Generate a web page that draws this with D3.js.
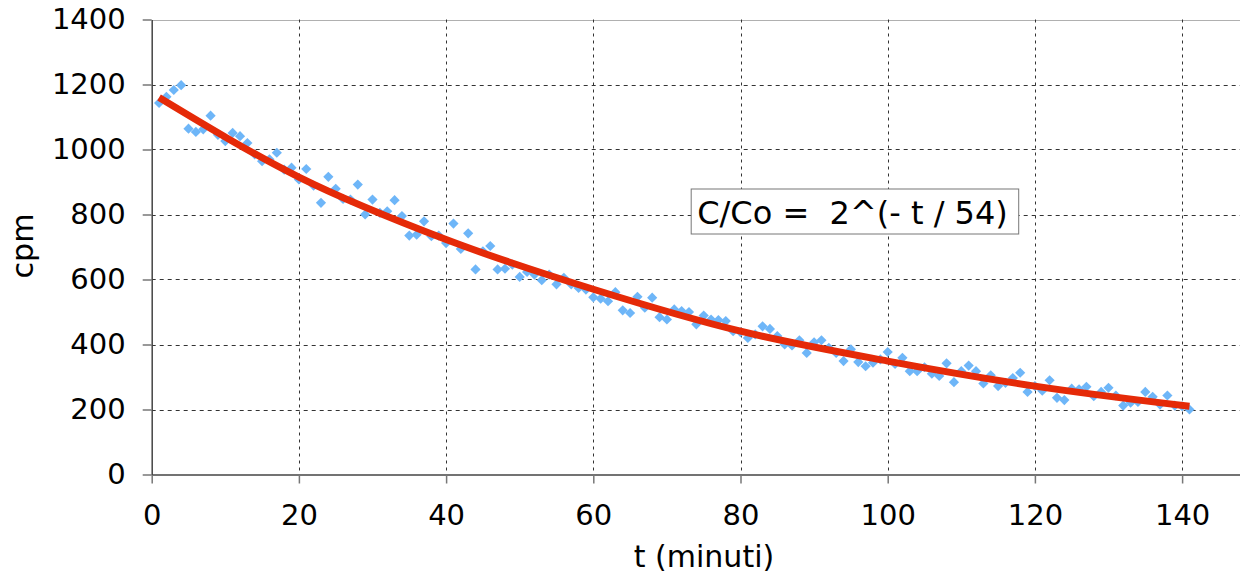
<!DOCTYPE html>
<html>
<head>
<meta charset="utf-8">
<script src="https://cdn.jsdelivr.net/npm/d3@7"></script>
<style>
  html, body { margin: 0; padding: 0; background: #fff; }
  svg { display: block; font-family: "DejaVu Sans", Verdana, sans-serif; }
</style>
</head>
<body>
<div id="chart"></div>
<script>
const width = 1240;
const height = 577;

// measured counts (cpm) for t = 1..141 minutes
const times = d3.range(1, 142);
const counts = [
  1143, 1162, 1183, 1198, 1064, 1054, 1062, 1104, 1045, 1026,
  1051, 1041, 1020, 985, 964, 970, 990, 938, 944, 908,
  940, 889, 836, 916, 879, 848, 846, 892, 800, 846,
  805, 810, 844, 795, 735, 738, 779, 733, 735, 712,
  772, 694, 742, 631, 687, 703, 631, 633, 646, 608,
  623, 615, 598, 615, 585, 605, 585, 574, 569, 545,
  541, 533, 561, 505, 497, 547, 513, 544, 484, 477,
  508, 503, 500, 462, 489, 477, 475, 472, 441, 438,
  420, 431, 456, 448, 426, 400, 397, 413, 374, 407,
  413, 390, 374, 349, 385, 346, 333, 344, 354, 377,
  340, 359, 318, 318, 330, 310, 303, 342, 284, 318,
  335, 318, 280, 305, 272, 282, 297, 313, 254, 272,
  258, 290, 236, 229, 264, 262, 270, 241, 254, 267,
  243, 212, 221, 223, 254, 239, 215, 243, 212, 210,
  200
];

// fitted trend
const fitT = [1, 20, 40, 60, 80, 100, 120, 141];
const fitC = [1160, 915, 723, 570, 441, 349, 272, 210];

const xTicks = [0, 20, 40, 60, 80, 100, 120, 140];
const yTicks = [0, 200, 400, 600, 800, 1000, 1200, 1400];
const fitLabel = "C/Co =  2^(- t / 54)";

const x = d3.scaleLinear().domain([0, 150]).range([151.7, 1255.7]);
const y = d3.scaleLinear().domain([0, 1400]).range([474.5, 19.5]);

const svg = d3.select("#chart").append("svg")
  .attr("width", width)
  .attr("height", height);

// grid
svg.append("g")
  .selectAll("line")
  .data(yTicks.filter(d => d > 0 && d < 1400))
  .join("line")
    .attr("x1", x(0)).attr("x2", width)
    .attr("y1", d => Math.round(y(d)) + 0.5).attr("y2", d => Math.round(y(d)) + 0.5)
    .attr("stroke", "#333").attr("stroke-width", 1)
    .attr("stroke-dasharray", "4,4");

svg.append("line")
  .attr("x1", x(0)).attr("x2", width)
  .attr("y1", Math.round(y(1400)) + 0.5).attr("y2", Math.round(y(1400)) + 0.5)
  .attr("stroke", "#b0b0b0").attr("stroke-width", 1);

svg.append("g")
  .selectAll("line")
  .data(xTicks.filter(d => d > 0))
  .join("line")
    .attr("x1", d => Math.round(x(d)) + 0.5).attr("x2", d => Math.round(x(d)) + 0.5)
    .attr("y1", y(1400)).attr("y2", y(0))
    .attr("stroke", "#333").attr("stroke-width", 1)
    .attr("stroke-dasharray", "3,4");

// fit label box
const box = svg.append("g");
box.append("rect")
  .attr("x", x(73.3)).attr("y", 189)
  .attr("width", x(117.8) - x(73.3)).attr("height", 45)
  .attr("fill", "#fff").attr("stroke", "#777").attr("stroke-width", 1);
box.append("text")
  .attr("x", x(73.3) + 6).attr("y", 224)
  .attr("font-size", 32)
  .attr("fill", "#000")
  .style("white-space", "pre")
  .attr("xml:space", "preserve")
  .text(fitLabel);

// axes
const xAxis = d3.axisBottom(x)
  .tickValues(xTicks)
  .tickSize(9)
  .tickSizeOuter(0)
  .tickPadding(21)
  .tickFormat(d3.format("d"));

const yAxis = d3.axisLeft(y)
  .tickValues(yTicks)
  .tickSize(9)
  .tickSizeOuter(0)
  .tickPadding(17)
  .tickFormat(d3.format("d"));

const gx = svg.append("g")
  .attr("transform", "translate(0," + y(0) + ")")
  .call(xAxis);
const gy = svg.append("g")
  .attr("transform", "translate(" + x(0) + ",0)")
  .call(yAxis);

[gx, gy].forEach(g => {
  g.select(".domain").attr("stroke", "#444").attr("stroke-width", 1.5);
  g.selectAll(".tick line").attr("stroke", "#777").attr("stroke-width", 1.5);
  g.selectAll(".tick text")
    .attr("font-size", 29)
    .attr("font-family", "DejaVu Sans, Verdana, sans-serif")
    .attr("fill", "#000");
});

// data points
svg.append("g")
  .selectAll("path")
  .data(times)
  .join("path")
    .attr("d", d3.symbol(d3.symbolSquare, 52))
    .attr("transform", (d, i) => "translate(" + x(d) + "," + y(counts[i]) + ") rotate(45)")
    .attr("fill", "#6eb6f8");

// trend line
const line = d3.line()
  .x((d, i) => x(fitT[i]))
  .y(d => y(d))
  .curve(d3.curveMonotoneX);

svg.append("path")
  .datum(fitC)
  .attr("d", line)
  .attr("fill", "none")
  .attr("stroke", "#e52a08")
  .attr("stroke-width", 7);

// axis titles
svg.append("text")
  .attr("x", 704).attr("y", 567)
  .attr("text-anchor", "middle")
  .attr("font-size", 30)
  .text("t (minuti)");

svg.append("text")
  .attr("transform", "translate(33,246) rotate(-90)")
  .attr("text-anchor", "middle")
  .attr("font-size", 30)
  .text("cpm");
</script>
</body>
</html>
